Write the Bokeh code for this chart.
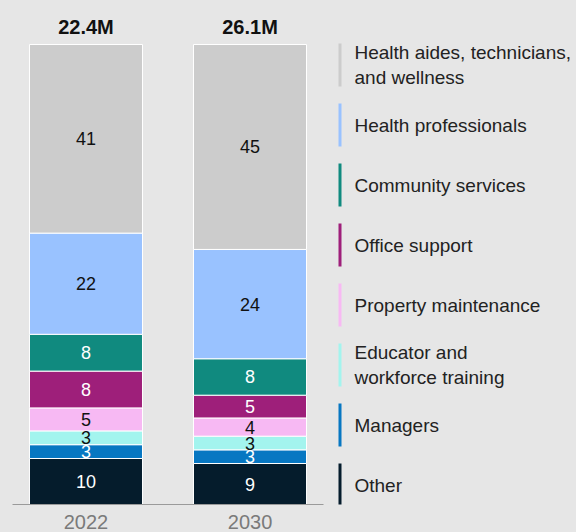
from bokeh.plotting import figure
from bokeh.models import ColumnDataSource, Range1d, FixedTicker
from bokeh.layouts import row
from bokeh.core.properties import value
from bokeh.embed import file_html
from bokeh.resources import INLINE

# ---------------- data ----------------
years = ["2022", "2030"]
totals = ["22.4M", "26.1M"]
categories = [
    "Health aides, technicians,\nand wellness",
    "Health professionals",
    "Community services",
    "Office support",
    "Property maintenance",
    "Educator and\nworkforce training",
    "Managers",
    "Other",
]
share_2022 = [41, 22, 8, 8, 5, 3, 3, 10]
share_2030 = [45, 24, 8, 5, 4, 3, 3, 9]
colors = ["#cccccc", "#99c2ff", "#108a7f", "#9e1f7a", "#f7b9f3", "#a3f4ee", "#0777c2", "#051c2c"]
label_colors = ["#111111", "#111111", "#ffffff", "#ffffff", "#111111", "#111111", "#ffffff", "#ffffff"]

# ---------------- style ----------------
FONT = "Liberation Sans"
BG = "#e6e6e6"
W1, W2, H = 330, 246, 532
BOTTOM = 28
FRAME_H = H - BOTTOM
BAR_PX = 460
Y_END = 100 * FRAME_H / BAR_PX

series = [share_2022, share_2030]

# build stacked segments (bottom to top), normalised to 100
xs, bottoms, tops, fills, mids, labels, lcolors = [], [], [], [], [], [], []
for j, vals in enumerate(series):
    tot = float(sum(vals))
    acc = 0.0
    for i in reversed(range(len(categories))):
        h = vals[i] / tot * 100
        xs.append(j)
        bottoms.append(acc)
        tops.append(acc + h)
        mids.append(acc + h / 2)
        fills.append(colors[i])
        labels.append(str(vals[i]))
        lcolors.append(label_colors[i])
        acc += h

seg = ColumnDataSource(dict(x=xs, bottom=bottoms, top=tops, fill=fills, mid=mids,
                            label=labels, lcolor=lcolors))

p = figure(width=W1, height=H, x_range=Range1d(-0.448, 1.448), y_range=Range1d(0, Y_END),
           output_backend="svg", toolbar_location=None, y_axis_location=None,
           min_border_left=12, min_border_right=7, min_border_top=0, min_border_bottom=BOTTOM)
p.background_fill_color = BG
p.border_fill_color = BG
p.outline_line_color = None
p.grid.visible = False

p.vbar(x="x", bottom="bottom", top="top", width=0.689, fill_color="fill",
       line_color="white", line_width=1, source=seg)
p.text(x="x", y="mid", text="label", text_color="lcolor", text_align="center",
       text_baseline="middle", text_font=value(FONT), text_font_size="18px", source=seg)

tot_src = ColumnDataSource(dict(x=list(range(len(years))), y=[100] * len(years), t=totals))
p.text(x="x", y="y", text="t", y_offset=-18, text_align="center", text_baseline="middle",
       text_font=value(FONT), text_font_size="20px", text_font_style="bold",
       text_color="#111111", source=tot_src)

ax = p.xaxis[0]
ax.ticker = FixedTicker(ticks=list(range(len(years))))
ax.major_label_overrides = {i: y for i, y in enumerate(years)}
ax.major_tick_line_color = None
ax.minor_tick_line_color = None
ax.axis_line_color = "#9a9a9a"
ax.axis_line_width = 1
ax.major_label_text_font = FONT
ax.major_label_text_font_size = "20px"
ax.major_label_text_color = "#7a7a7a"
ax.major_label_standoff = 4

# ---------------- legend panel ----------------
# the row aligns the frames, so this panel's frame is FRAME_H tall (pixel units)
LEG_TOP, LEG_STEP, LEG_BAR_H = 43, 60, 43
q = figure(width=W2, height=H, x_range=Range1d(0, W2), y_range=Range1d(FRAME_H, 0),
           output_backend="svg", toolbar_location=None, x_axis_location=None,
           y_axis_location=None, min_border=0, min_border_bottom=BOTTOM)
q.background_fill_color = BG
q.border_fill_color = BG
q.outline_line_color = None
q.grid.visible = False

ltops = [LEG_TOP + i * LEG_STEP for i in range(len(categories))]
leg = ColumnDataSource(dict(top=ltops, bottom=[t + LEG_BAR_H for t in ltops],
                            mid=[t + LEG_BAR_H / 2 for t in ltops],
                            fill=colors, label=categories))
q.quad(left=8, right=11, top="top", bottom="bottom", fill_color="fill", line_color=None, source=leg)
q.text(x=24, y="mid", text="label", text_baseline="middle", text_align="left",
       text_font=value(FONT), text_font_size="19px", text_color="#222222",
       text_line_height=1.15, source=leg)

layout = row(p, q)
tmpl = "{% block preamble %}<style>html, body { background: #e6e6e6; }</style>{% endblock %}"
open("out.html", "w").write(file_html(layout, INLINE, template=tmpl))
